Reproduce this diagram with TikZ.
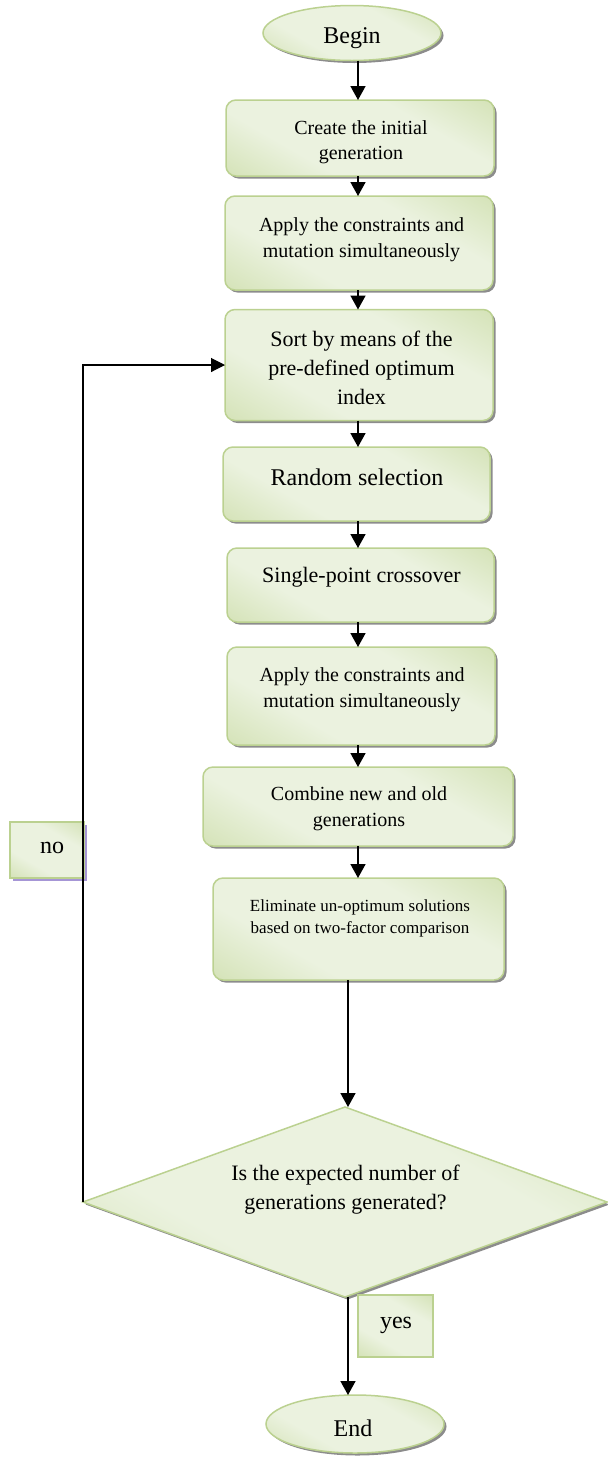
\documentclass[tikz,border=0pt]{standalone}
\usepackage{fontspec}
\setmainfont{Liberation Serif}
\usetikzlibrary{shapes.geometric,shadows,arrows.meta}
\definecolor{gdark}{HTML}{C2D697}
\definecolor{glight}{HTML}{EBF2DF}
\definecolor{gborder}{HTML}{BBD190}
\definecolor{pshadow}{HTML}{A696D6}
\pgfdeclarehorizontalshading{gdiag}{100bp}{color(0bp)=(gdark); color(35bp)=(glight); color(65bp)=(glight); color(100bp)=(gdark)}
\tikzset{
  gfill/.style={shading=gdiag, shading angle=60, draw=gborder, line width=1.5pt},
  gshadow/.style={drop shadow={shadow xshift=2.5pt, shadow yshift=-2.5pt, fill=black!45, opacity=1}},
  procbox/.style={gfill, gshadow, rounded corners=10pt, inner sep=0pt, outer sep=0pt},
  termnode/.style={ellipse, gfill, gshadow, inner sep=0pt, outer sep=0pt, minimum width=178pt},
  labelbox/.style={gfill, inner sep=0pt, outer sep=0pt},
  txt/.style={align=center, inner sep=0pt},
  arr/.style={-{Triangle[width=15pt,length=14pt]}, line width=1.6pt},
  looparr/.style={-{Triangle[width=14pt,length=14pt]}, line width=1.1pt}
}
\begin{document}
\begin{tikzpicture}[x=1pt,y=-1pt]
\useasboundingbox (0,0) rectangle (608,1460);
\coordinate (ax) at (358,0);
\coordinate (bx) at (348,0);
% shapes
\node[termnode, minimum height=55pt] (begin) at (352,33) {};
\node[procbox, minimum width=268pt, minimum height=76pt] (create) at (360,138) {};
\node[procbox, minimum width=268pt, minimum height=94pt] (apply1) at (359,243) {};
\node[procbox, minimum width=268pt, minimum height=111pt] (sort) at (359,365) {};
\node[procbox, minimum width=267pt, minimum height=74pt] (random) at (356.5,484) {};
\node[procbox, minimum width=267pt, minimum height=74pt] (single) at (360.5,585) {};
\node[procbox, minimum width=268pt, minimum height=98pt] (apply2) at (361,696) {};
\node[procbox, minimum width=310pt, minimum height=79pt] (combine) at (358,806.5) {};
\node[procbox, minimum width=291pt, minimum height=102pt] (elim) at (358.5,929) {};
\node[diamond, gfill, gshadow, inner sep=0pt, outer sep=0pt, minimum width=524pt, minimum height=190pt] (dec) at (345,1202) {};
\node[termnode, minimum height=58pt] (end) at (355,1424) {};
\node[labelbox, drop shadow={shadow xshift=2.5pt, shadow yshift=-2.5pt, fill=pshadow, opacity=1}, minimum width=74pt, minimum height=56pt] (nobox) at (47,850) {};
\node[labelbox, minimum width=75pt, minimum height=62pt] (yesbox) at (395.5,1326) {};
% texts
\node[txt, font=\fontsize{24}{28}\selectfont] (begint) at (352,38) {Begin};
\node[txt, font=\fontsize{20}{25}\selectfont] (createt) at (361,142) {Create the initial\\generation};
\node[txt, font=\fontsize{20}{26}\selectfont] (apply1t) at (361.5,240) {Apply the constraints and\\mutation simultaneously};
\node[txt, font=\fontsize{22}{29}\selectfont] (sortt) at (361.5,368) {Sort by means of the\\pre-defined optimum\\index};
\node[txt, font=\fontsize{24}{28}\selectfont] (randomt) at (357,477) {Random selection};
\node[txt, font=\fontsize{22}{26}\selectfont] (singlet) at (361.5,577) {Single-point crossover};
\node[txt, font=\fontsize{20}{26}\selectfont] (apply2t) at (362,690) {Apply the constraints and\\mutation simultaneously};
\node[txt, font=\fontsize{20}{26}\selectfont] (combinet) at (359,809) {Combine new and old\\generations};
\node[txt, font=\fontsize{17}{22}\selectfont] (elimt) at (360,918) {Eliminate un-optimum solutions\\based on two-factor comparison};
\node[txt, font=\fontsize{22}{29}\selectfont] (dect) at (345.5,1190) {Is the expected number of\\generations generated?};
\node[txt, font=\fontsize{24}{28}\selectfont] (endt) at (353,1428) {End};
\node[txt, font=\fontsize{24}{28}\selectfont] (not) at (52,848) {no};
\node[txt, font=\fontsize{24}{28}\selectfont] (yest) at (396,1325) {yes};
% connectors
\draw[arr] (begin.south -| ax) -- (create.north -| ax);
\draw[arr] (create.south -| ax) -- (apply1.north -| ax);
\draw[arr] (apply1.south -| ax) -- (sort.north -| ax);
\draw[arr] (sort.south -| ax) -- (random.north -| ax);
\draw[arr] (random.south -| ax) -- (single.north -| ax);
\draw[arr] (single.south -| ax) -- (apply2.north -| ax);
\draw[arr] (apply2.south -| ax) -- (combine.north -| ax);
\draw[arr] (combine.south -| ax) -- (elim.north -| ax);
\draw[arr] (elim.south -| bx) -- (dec.north -| bx);
\draw[arr] (dec.south -| bx) -- (end.north -| bx);
\draw[looparr] (dec.west) |- (sort.west);
\end{tikzpicture}
\end{document}
